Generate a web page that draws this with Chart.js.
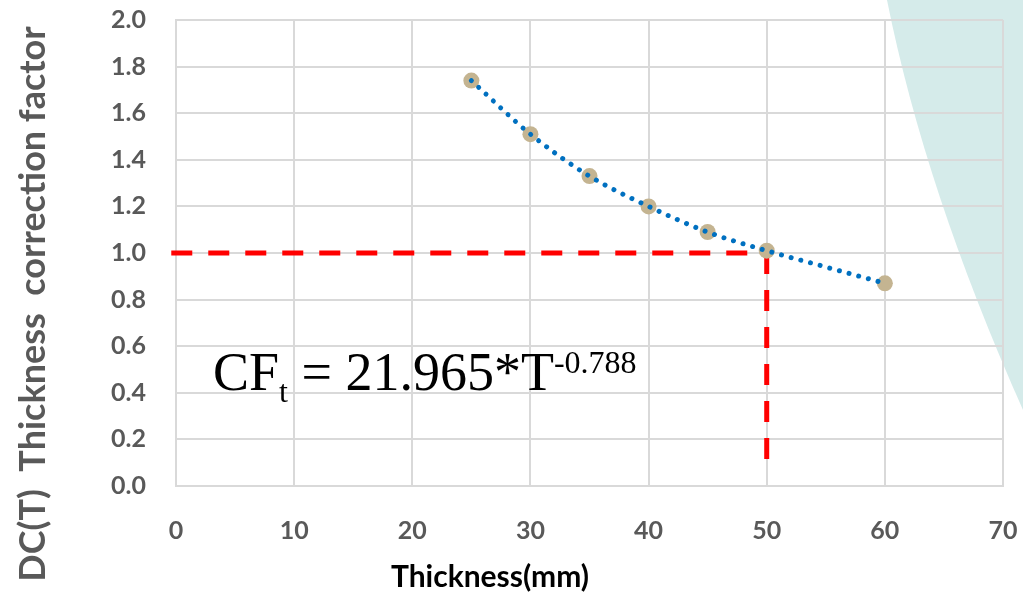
<!DOCTYPE html>
<html>
<head>
<meta charset="utf-8">
<script src="https://cdn.jsdelivr.net/npm/chart.js@4"></script>
<style>
html,body{margin:0;padding:0;background:#fff;}
#wrap{width:1023px;height:595px;position:relative;}
</style>
</head>
<body>
<div id="wrap"><canvas id="c" width="1023" height="595"></canvas></div>
<script>
// ---- data ----
const thickness = [25, 30, 35, 40, 45, 50, 60];
const cfValues  = [1.74, 1.51, 1.33, 1.20, 1.09, 1.01, 0.87];
const trendX    = [25, 30, 35, 40, 45, 50, 55, 60];
const trendY    = [1.74, 1.51, 1.33, 1.20, 1.09, 1.01, 0.94, 0.87];
const refX = [-0.4, 50];
const refY = [1.0, 1.0];
const refVX = [50, 50];
const refVY = [1.0, 0.1];
const xTickValues = [0, 10, 20, 30, 40, 50, 60, 70];
const yTickValues = [0.0, 0.2, 0.4, 0.6, 0.8, 1.0, 1.2, 1.4, 1.6, 1.8, 2.0];
const xTitle = 'Thickness(mm)';
const yTitle = 'DC(T)  Thickness  correction factor';
const formulaMain = 'CF';
const formulaSub = 't';
const formulaMid = ' = 21.965*T';
const formulaSup = '-0.788';

const pts = (xs, ys) => xs.map((x, i) => ({x: x, y: ys[i]}));

const decor = {
  id: 'decor',
  beforeDraw(chart) {
    const ctx = chart.ctx;
    ctx.save();
    ctx.fillStyle = '#d5ebea';
    ctx.beginPath();
    ctx.moveTo(887, 0);
    ctx.quadraticCurveTo(925, 190, 1023, 410);
    ctx.lineTo(1023, 0);
    ctx.closePath();
    ctx.fill();
    ctx.restore();
  },
  afterDraw(chart) {
    const ctx = chart.ctx;
    ctx.save();
    // y title
    ctx.fillStyle = '#595959';
    ctx.font = 'bold 36px Lato';
    ctx.textAlign = 'center';
    ctx.textBaseline = 'middle';
    ctx.translate(33, 304);
    ctx.rotate(-Math.PI / 2);
    ctx.fillText(yTitle, 0, 0);
    ctx.restore();
    ctx.save();
    ctx.fillStyle = '#000';
    ctx.font = 'bold 30px Lato';
    ctx.textAlign = 'center';
    ctx.textBaseline = 'middle';
    ctx.fillText(xTitle, 490, 577);
    // formula
    ctx.textAlign = 'left';
    ctx.textBaseline = 'alphabetic';
    let x = 213, base = 390;
    ctx.font = '54px "Liberation Serif"';
    ctx.fillText(formulaMain, x, base);
    x += ctx.measureText(formulaMain).width;
    ctx.font = '32px "Liberation Serif"';
    ctx.fillText(formulaSub, x, base + 12);
    x += ctx.measureText(formulaSub).width;
    ctx.font = '54px "Liberation Serif"';
    ctx.fillText(formulaMid, x, base);
    x += ctx.measureText(formulaMid).width;
    ctx.font = '32px "Liberation Serif"';
    ctx.fillText(formulaSup, x, base - 17);
    ctx.restore();
  }
};

new Chart(document.getElementById('c'), {
  type: 'scatter',
  data: {
    datasets: [
      {
        label: 'trend',
        data: pts(trendX, trendY),
        showLine: true,
        cubicInterpolationMode: 'monotone',
        borderColor: '#0070C0',
        borderWidth: 5,
        borderDash: [0.01, 10],
        borderCapStyle: 'round',
        pointRadius: 0,
        order: 0
      },
      {
        label: 'CF',
        data: pts(thickness, cfValues),
        showLine: false,
        pointRadius: 8,
        pointBackgroundColor: '#c4b491',
        pointBorderWidth: 0,
        order: 1
      },
      {
        label: 'h',
        data: pts(refX, refY),
        showLine: true,
        borderColor: '#ff0000',
        borderWidth: 5,
        borderDash: [21, 16],
        pointRadius: 0,
        clip: false,
        order: 2
      },
      {
        label: 'v',
        data: pts(refVX, refVY),
        showLine: true,
        borderColor: '#ff0000',
        borderWidth: 5,
        borderDash: [21, 16],
        pointRadius: 0,
        clip: false,
        order: 2
      }
    ]
  },
  options: {
    responsive: false,
    devicePixelRatio: 1,
    animation: false,
    layout: {padding: {left: 0, top: 20, right: 20, bottom: 0}},
    plugins: {legend: {display: false}, tooltip: {enabled: false}},
    scales: {
      x: {
        type: 'linear', min: 0, max: 70,
        afterBuildTicks(s) { s.ticks = xTickValues.map(v => ({value: v})); },
        afterFit(s) { s.height = 109; s.paddingLeft = 0; s.paddingRight = 0; },
        grid: {color: '#d9d9d9', lineWidth: 2, drawTicks: false},
        border: {color: '#d9d9d9', width: 2},
        ticks: {padding: 30, color: '#595959', font: {family: 'Lato', size: 25, weight: 'bold'}}
      },
      y: {
        type: 'linear', min: 0, max: 2,
        afterBuildTicks(s) { s.ticks = yTickValues.map(v => ({value: v})); },
        afterFit(s) { s.width = 176; s.paddingTop = 0; s.paddingBottom = 0; },
        grid: {color: '#d9d9d9', lineWidth: 2, drawTicks: false},
        border: {color: '#d9d9d9', width: 2},
        ticks: {padding: 30, color: '#595959', font: {family: 'Lato', size: 25, weight: 'bold'},
          callback: v => v.toFixed(1)}
      }
    }
  },
  plugins: [decor]
});
</script>
</body>
</html>
